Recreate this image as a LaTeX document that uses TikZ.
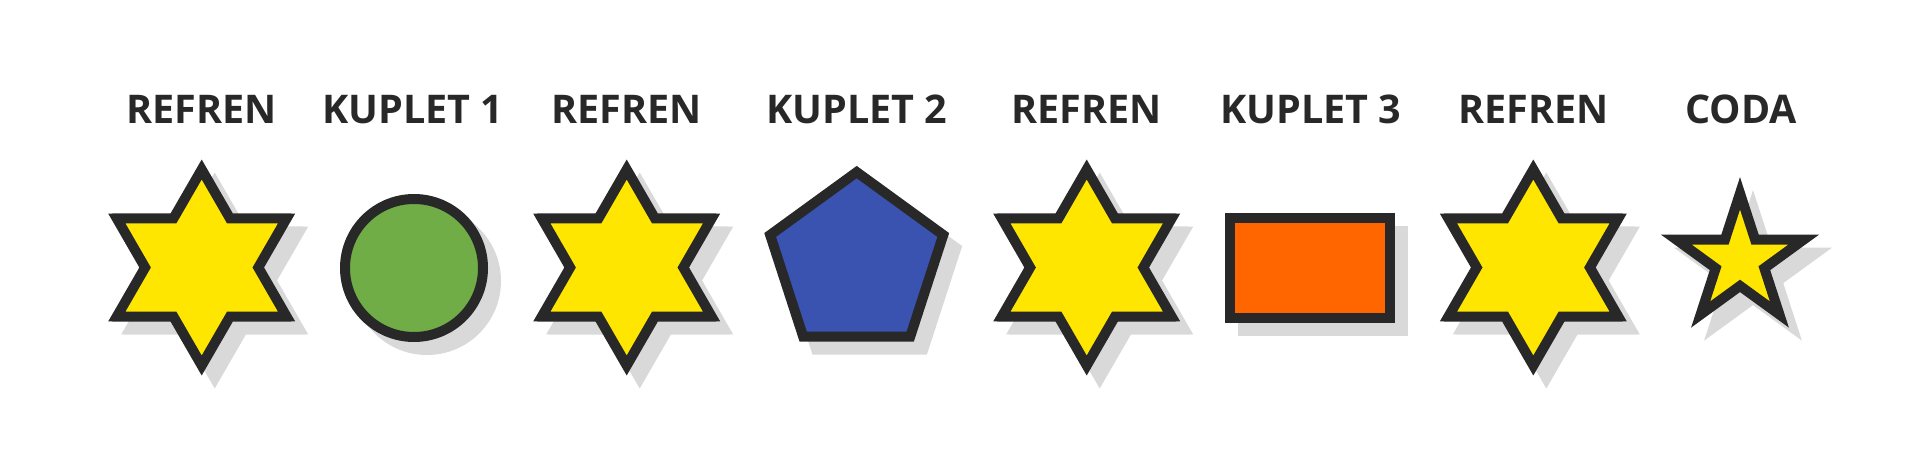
\documentclass[tikz,border=0pt]{standalone}
\usepackage{fontspec}
\setmainfont{Open Sans}
\usetikzlibrary{shapes.geometric}
\definecolor{ink}{HTML}{282828}
\definecolor{shadowgray}{HTML}{D9D9D9}
\definecolor{refyellow}{HTML}{FFE600}
\definecolor{kgreen}{HTML}{70AD47}
\definecolor{kblue}{HTML}{3A53B0}
\definecolor{korange}{HTML}{FF6600}
\tikzset{
  shapebase/.style={draw=ink, line width=10pt, inner sep=0pt, outer sep=0pt,
    preaction={fill=shadowgray, draw=shadowgray, transform canvas={shift={(13pt,-13pt)}}}},
  hexstar/.style={shapebase, star, star points=6, star point ratio=1.732, minimum size=196pt, fill=refyellow},
  penstar/.style={shapebase, star, star points=5, star point ratio=2.618, minimum size=134pt, fill=refyellow},
  disc/.style={shapebase, circle, minimum size=138pt, fill=kgreen},
  pent/.style={shapebase, regular polygon, regular polygon sides=5, minimum size=182pt, fill=kblue},
  box/.style={shapebase, rectangle, minimum width=160pt, minimum height=99.4pt, fill=korange},
  lab/.style={anchor=base, text=ink, font=\bfseries\fontsize{39.5pt}{40pt}\selectfont, inner sep=0pt}
}
\begin{document}
\begin{tikzpicture}[x=1pt, y={(0,-1pt)}]
\fill[white] (0,0) rectangle (1920,457);
\useasboundingbox (0,0) rectangle (1920,457);
% shapes
\node[hexstar] (s1) at (201.7,267.5) {};
\node[disc]    (s2) at (414,268) {};
\node[hexstar] (s3) at (626.7,267.5) {};
\node[pent]    (s4) at (856.7,263.1) {};
\node[hexstar] (s5) at (1086.7,267.5) {};
\node[box]     (s6) at (1310,268) {};
\node[hexstar] (s7) at (1533.3,267.5) {};
\node[penstar] (s8) at (1740,260.3) {};
% labels
\node[lab] (l1) at (201.7,123.3) {REFREN};
\node[lab] (l2) at (413,123.3) {KUPLET 1};
\node[lab] (l3) at (626.7,123.3) {REFREN};
\node[lab] (l4) at (856.7,123.3) {KUPLET 2};
\node[lab] (l5) at (1086.7,123.3) {REFREN};
\node[lab] (l6) at (1310.7,123.3) {KUPLET 3};
\node[lab] (l7) at (1533.3,123.3) {REFREN};
\node[lab] (l8) at (1741.3,123.3) {CODA};
\end{tikzpicture}
\end{document}
